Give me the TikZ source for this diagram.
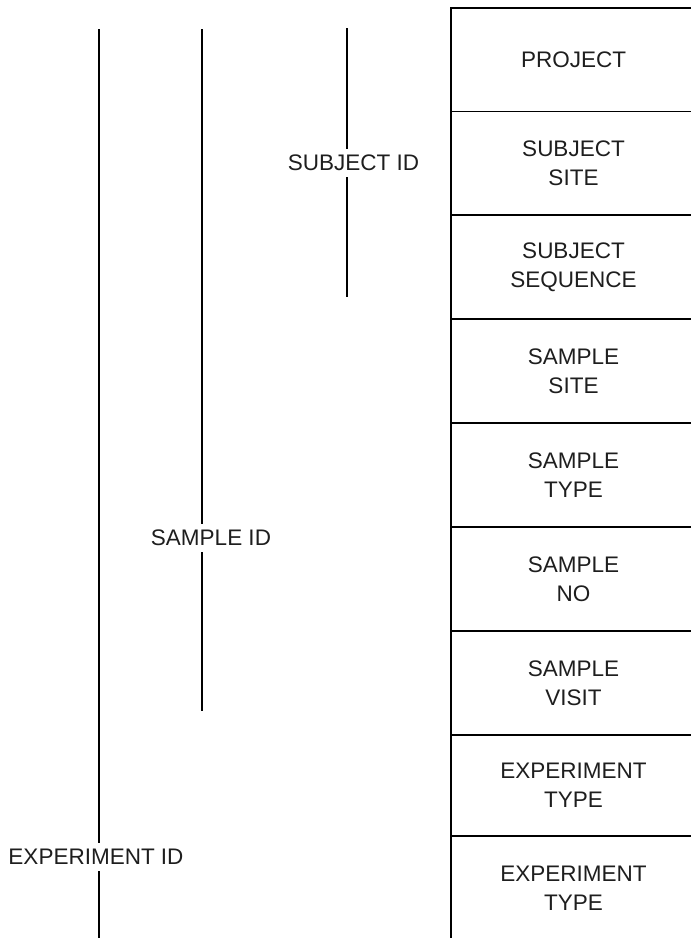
\documentclass[tikz,border=0pt]{standalone}
\usepackage{fontspec}
\setmainfont{Liberation Sans}
\definecolor{txt}{RGB}{30,30,30}
\begin{document}
\begin{tikzpicture}[x=1pt,y=-1pt,
  ln/.style={line width=1.8pt,black},
  cell/.style={text=txt,font=\fontsize{22.5}{29}\selectfont,align=center,inner sep=0pt},
  idlabel/.style={text=txt,font=\fontsize{22.5}{29}\selectfont,fill=white,inner sep=0pt,minimum height=28pt}]
\useasboundingbox (0,0) rectangle (691,938);
% table frame
\coordinate (tl) at (451,8);
\coordinate (tr) at (691,8);
\coordinate (bl) at (451,938);
\draw[ln] (tr) -- (tl) -- (bl);
\foreach \i/\y in {1/111.5,2/215,3/319,4/423,5/527,6/631,7/735,8/836}{
  \coordinate (dl\i) at (451,\y);
  \coordinate (dr\i) at (691,\y);
  \draw[ln] (dl\i) -- (dr\i);
}
% cells
\node[cell] (c1) at (573.5,59.5) {PROJECT};
\node[cell] (c2) at (573.5,163.5) {SUBJECT\\SITE};
\node[cell] (c3) at (573.5,267) {SUBJECT\\SEQUENCE};
\node[cell] (c4) at (573.5,371) {SAMPLE\\SITE};
\node[cell] (c5) at (573.5,475) {SAMPLE\\TYPE};
\node[cell] (c6) at (573.5,579) {SAMPLE\\NO};
\node[cell] (c7) at (573.5,683) {SAMPLE\\VISIT};
\node[cell] (c8) at (573.5,785.5) {EXPERIMENT\\TYPE};
\node[cell] (c9) at (573.5,888.5) {EXPERIMENT\\TYPE};
% vertical id lines
\coordinate (subT) at (347,28);
\coordinate (subB) at (347,297);
\coordinate (samT) at (202,29);
\coordinate (samB) at (202,711);
\coordinate (expT) at (99,29);
\coordinate (expB) at (99,938);
\draw[ln] (subT) -- (subB);
\draw[ln] (samT) -- (samB);
\draw[ln] (expT) -- (expB);
\node[idlabel] (subid) at (353.5,163) {SUBJECT ID};
\node[idlabel] (samid) at (211,538) {SAMPLE ID};
\node[idlabel] (expid) at (96,857) {EXPERIMENT ID};
\end{tikzpicture}
\end{document}
